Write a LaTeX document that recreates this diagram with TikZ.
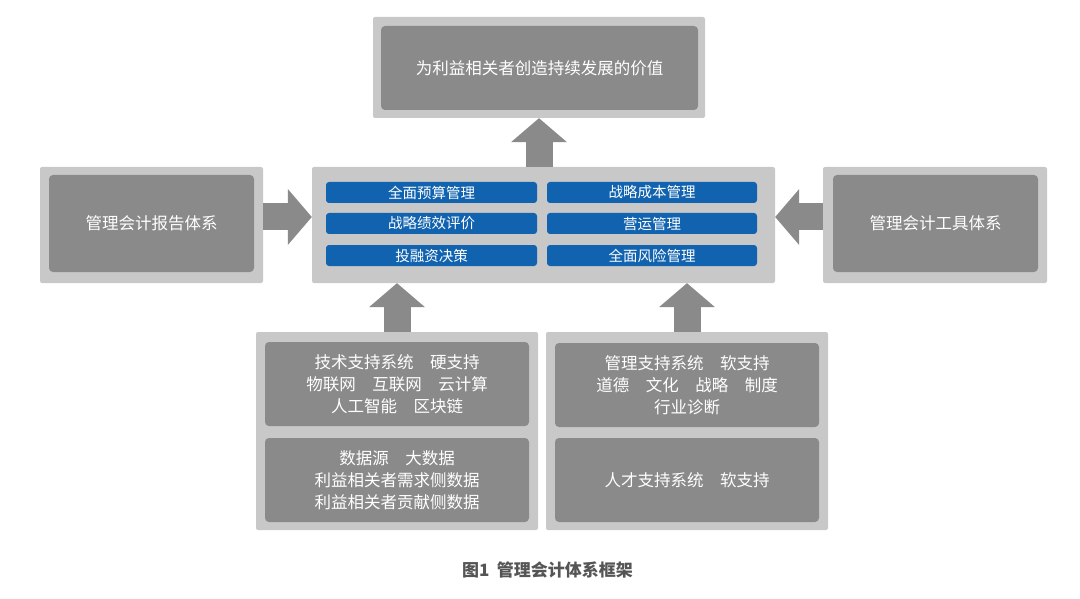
\documentclass[tikz,border=0pt]{standalone}
\usepackage{fontspec}
\setmainfont{Noto Sans CJK SC}
\usetikzlibrary{arrows.meta}
\definecolor{outerg}{HTML}{C8C8C8}
\definecolor{innerg}{HTML}{8A8A8A}
\definecolor{arrowg}{HTML}{8A8A8A}
\definecolor{blueb}{HTML}{1163AF}
\definecolor{capg}{HTML}{555555}
\begin{document}
\begin{tikzpicture}[x=1pt,y=-1pt,
  outerbox/.style={fill=outerg, rounded corners=2pt, inner sep=0pt},
  innerbox/.style={fill=innerg, rounded corners=4pt, inner sep=0pt, text=white,
    align=center, font=\fontsize{16.5}{22}\selectfont},
  bluebox/.style={fill=blueb, rounded corners=3pt, inner sep=0pt, text=white,
    minimum height=21pt, font=\fontsize{14.5}{16}\selectfont},
  blockarrow/.style={draw=arrowg, line width=27pt,
    -{Triangle[width=56pt,length=24pt,line width=0pt]}}
]
\useasboundingbox (0,0) rectangle (1080,599);
\fill[white] (0,0) rectangle (1080,599);

% top
\node[outerbox, minimum width=332pt, minimum height=101pt] (tO) at (539,67.5) {};
\node[innerbox, minimum width=317pt, minimum height=84pt] (tI) at (539.5,68) {为利益相关者创造持续发展的价值};

% center
\node[outerbox, minimum width=463pt, minimum height=116pt] (c) at (543.5,225) {};
\node[bluebox, minimum width=211pt] (b1) at (431.5,192.5) {全面预算管理};
\node[bluebox, minimum width=210pt] (b2) at (652,192.5) {战略成本管理};
\node[bluebox, minimum width=211pt] (b3) at (431.5,223.5) {战略绩效评价};
\node[bluebox, minimum width=210pt] (b4) at (652,223.5) {营运管理};
\node[bluebox, minimum width=211pt] (b5) at (431.5,255.5) {投融资决策};
\node[bluebox, minimum width=210pt] (b6) at (652,255.5) {全面风险管理};

% left / right
\node[outerbox, minimum width=223pt, minimum height=116pt] (lO) at (151.5,225) {};
\node[innerbox, minimum width=205pt, minimum height=97pt] (lI) at (151.5,223.5) {管理会计报告体系};
\node[outerbox, minimum width=224pt, minimum height=116pt] (rO) at (935,225) {};
\node[innerbox, minimum width=205pt, minimum height=97pt] (rI) at (935.5,223.5) {管理会计工具体系};

% bottom left
\node[outerbox, minimum width=282pt, minimum height=198pt] (blO) at (397,431) {};
\node[innerbox, minimum width=264pt, minimum height=84pt] (bl1) at (397,384) {技术支持系统　硬支持\\物联网　互联网　云计算\\人工智能　区块链};
\node[innerbox, minimum width=264pt, minimum height=84pt] (bl2) at (397,480) {数据源　大数据\\利益相关者需求侧数据\\利益相关者贡献侧数据};

% bottom right
\node[outerbox, minimum width=282pt, minimum height=198pt] (brO) at (687,431) {};
\node[innerbox, minimum width=264pt, minimum height=84pt] (br1) at (687,385) {管理支持系统　软支持\\道德　文化　战略　制度\\行业诊断};
\node[innerbox, minimum width=264pt, minimum height=84pt] (br2) at (687,480) {人才支持系统　软支持};

% arrows
\draw[blockarrow] (tO.south |- c.north) -- (tO.south);
\draw[blockarrow] ([yshift=8pt]lO.east) -- ([yshift=8pt]lO.east -| c.west);
\draw[blockarrow] ([yshift=8pt]rO.west) -- ([yshift=8pt]rO.west -| c.east);
\draw[blockarrow] (blO.north) -- (blO.north |- c.south);
\draw[blockarrow] (brO.north) -- (brO.north |- c.south);

% caption
\node[text=capg, font=\fontsize{17}{20}\selectfont\bfseries] (cap) at (547.5,570) {图1\hspace{0.45em}管理会计体系框架};
\end{tikzpicture}
\end{document}
